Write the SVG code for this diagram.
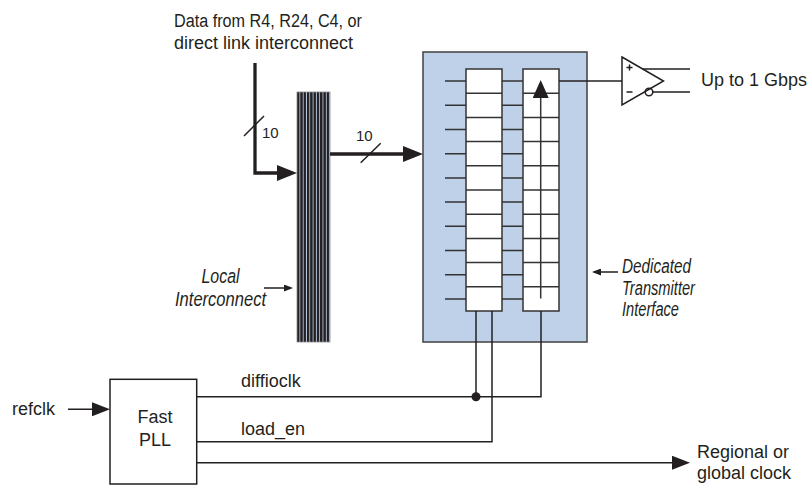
<svg xmlns="http://www.w3.org/2000/svg" width="811" height="485" viewBox="0 0 811 485">
<style>
.t{font-family:"Liberation Sans",Arial,sans-serif;font-size:18px;fill:#231f20}
.n{font-family:"Liberation Sans",Arial,sans-serif;font-size:15px;fill:#231f20}
.i{font-family:"Liberation Sans",Arial,sans-serif;font-size:20px;font-style:italic;fill:#231f20}
.w{fill:none;stroke:#231f20;stroke-width:1.5}
.thick{fill:none;stroke:#231f20;stroke-width:3.3}
.reg{fill:#fff;stroke:#333;stroke-width:1.5}
.rl{stroke:#333;stroke-width:1.5}
</style>
<defs>
<marker id="ahBig" markerUnits="userSpaceOnUse" markerWidth="20" markerHeight="16" refX="13" refY="8" orient="auto"><path d="M0,0 L20,8 L0,16 z" fill="#231f20"/></marker>
<marker id="ahMed" markerUnits="userSpaceOnUse" markerWidth="18" markerHeight="14" refX="13" refY="7" orient="auto"><path d="M0,0 L18,7 L0,14 z" fill="#231f20"/></marker>
<marker id="ahSmall" markerUnits="userSpaceOnUse" markerWidth="9" markerHeight="7" refX="7" refY="3.5" orient="auto"><path d="M0,0 L9,3.5 L0,7 z" fill="#231f20"/></marker>
<marker id="ahReg" markerUnits="userSpaceOnUse" markerWidth="18" markerHeight="16" refX="14" refY="8" orient="auto"><path d="M0,0 L18,8 L0,16 z" fill="#231f20"/></marker>
<pattern id="stripes" patternUnits="userSpaceOnUse" x="297" y="0" width="3.3" height="10"><rect width="3.3" height="10" fill="#b7c9e2"/><rect width="2.4" height="10" fill="#231f20"/></pattern>
</defs>

<g id="source-label">
<text class="t" x="174" y="26.5" textLength="188" lengthAdjust="spacingAndGlyphs">Data from R4, R24, C4, or</text>
<text class="t" x="174" y="49">direct link interconnect</text>
</g>

<g id="local-interconnect">
<rect x="297" y="92" width="33" height="250" fill="url(#stripes)" stroke="#8a8a8a" stroke-width="0.8"/>
<text class="i" x="220.5" y="283.3" text-anchor="middle" textLength="38" lengthAdjust="spacingAndGlyphs">Local</text>
<text class="i" x="220.5" y="305.7" text-anchor="middle" textLength="91" lengthAdjust="spacingAndGlyphs">Interconnect</text>
</g>

<g id="transmitter-interface">
<rect x="423" y="52" width="164" height="290" fill="#bfd1e8" stroke="#4a4a4a" stroke-width="1.6"/>
<g id="input-lines">
<path class="rl" d="M445,81.1 H466 M445,105.3 H466 M445,129.5 H466 M445,153.7 H466 M445,177.9 H466 M445,202.1 H466 M445,226.3 H466 M445,250.5 H466 M445,274.7 H466 M445,298.9 H466"/>
<path class="rl" d="M502,81.1 H523 M502,105.3 H523 M502,129.5 H523 M502,153.7 H523 M502,177.9 H523 M502,202.1 H523 M502,226.3 H523 M502,250.5 H523 M502,274.7 H523 M502,298.9 H523"/>
</g>
<g id="parallel-register">
<rect class="reg" x="466" y="69" width="36" height="242"/>
<path class="rl" d="M466,93.2 H502 M466,117.4 H502 M466,141.6 H502 M466,165.8 H502 M466,190 H502 M466,214.2 H502 M466,238.4 H502 M466,262.6 H502 M466,286.8 H502"/>
</g>
<g id="serializer">
<rect class="reg" x="523" y="69" width="36" height="242"/>
<path class="rl" d="M523,93.2 H559 M523,117.4 H559 M523,141.6 H559 M523,165.8 H559 M523,190 H559 M523,214.2 H559 M523,238.4 H559 M523,262.6 H559 M523,286.8 H559"/>
<path class="rl" d="M540.7,298.5 V84" marker-end="url(#ahReg)"/>
</g>
<text class="i" x="622" y="273" textLength="69" lengthAdjust="spacingAndGlyphs">Dedicated</text>
<text class="i" x="622" y="294.5" textLength="73" lengthAdjust="spacingAndGlyphs">Transmitter</text>
<text class="i" x="622" y="316" textLength="57" lengthAdjust="spacingAndGlyphs">Interface</text>
</g>

<g id="output-buffer">
<path class="w" d="M622,57 L663.5,81 L622,105 z" fill="#fff"/>
<path class="w" d="M626.5,67.5 H632.5 M629.5,64.5 V70.5 M626.5,92 H632.5" stroke-width="1"/>
<circle class="w" cx="649" cy="92" r="3.8" fill="#fff"/>
<path class="w" d="M642.5,69 H690 M652.8,92 H690"/>
<text class="t" x="701" y="86">Up to 1 Gbps</text>
</g>

<g id="fast-pll">
<rect class="w" x="110" y="379.3" width="86.7" height="104.7" fill="#fff"/>
<text class="t" x="155" y="423.3" text-anchor="middle">Fast</text>
<text class="t" x="155" y="446" text-anchor="middle">PLL</text>
</g>

<g id="labels">
<text class="t" x="12" y="414.5">refclk</text>
<text class="t" x="241" y="386.7">diffioclk</text>
<text class="t" x="241" y="435">load_en</text>
<text class="t" x="697" y="458.3">Regional or</text>
<text class="t" x="697" y="479.3">global clock</text>
<text class="n" x="262" y="138">10</text>
<text class="n" x="356" y="141">10</text>
</g>

<g id="connectors">
<path class="thick" d="M255,63 V173 H290" marker-end="url(#ahBig)"/>
<path class="thick" d="M330,154 H416" marker-end="url(#ahBig)"/>
<path class="w" d="M244,136 L264,116 M360.7,162.7 L380.7,143.3" stroke-width="1.2"/>
<path class="w" d="M264,288 H291" marker-end="url(#ahSmall)"/>
<path class="w" d="M618,272 H594" marker-end="url(#ahSmall)"/>
<path class="w" d="M559,81 H622"/>
<path class="w" d="M68,409.3 H105" marker-end="url(#ahMed)"/>
<path class="w" d="M196.7,396.7 H541 V311"/>
<path class="w" d="M196.7,441.7 H492 V311"/>
<path class="w" d="M476,311 V396.7"/>
<circle cx="476" cy="396.7" r="4.5" fill="#231f20"/>
<path class="w" d="M196.7,462.7 H685" marker-end="url(#ahMed)"/>
</g>
</svg>
